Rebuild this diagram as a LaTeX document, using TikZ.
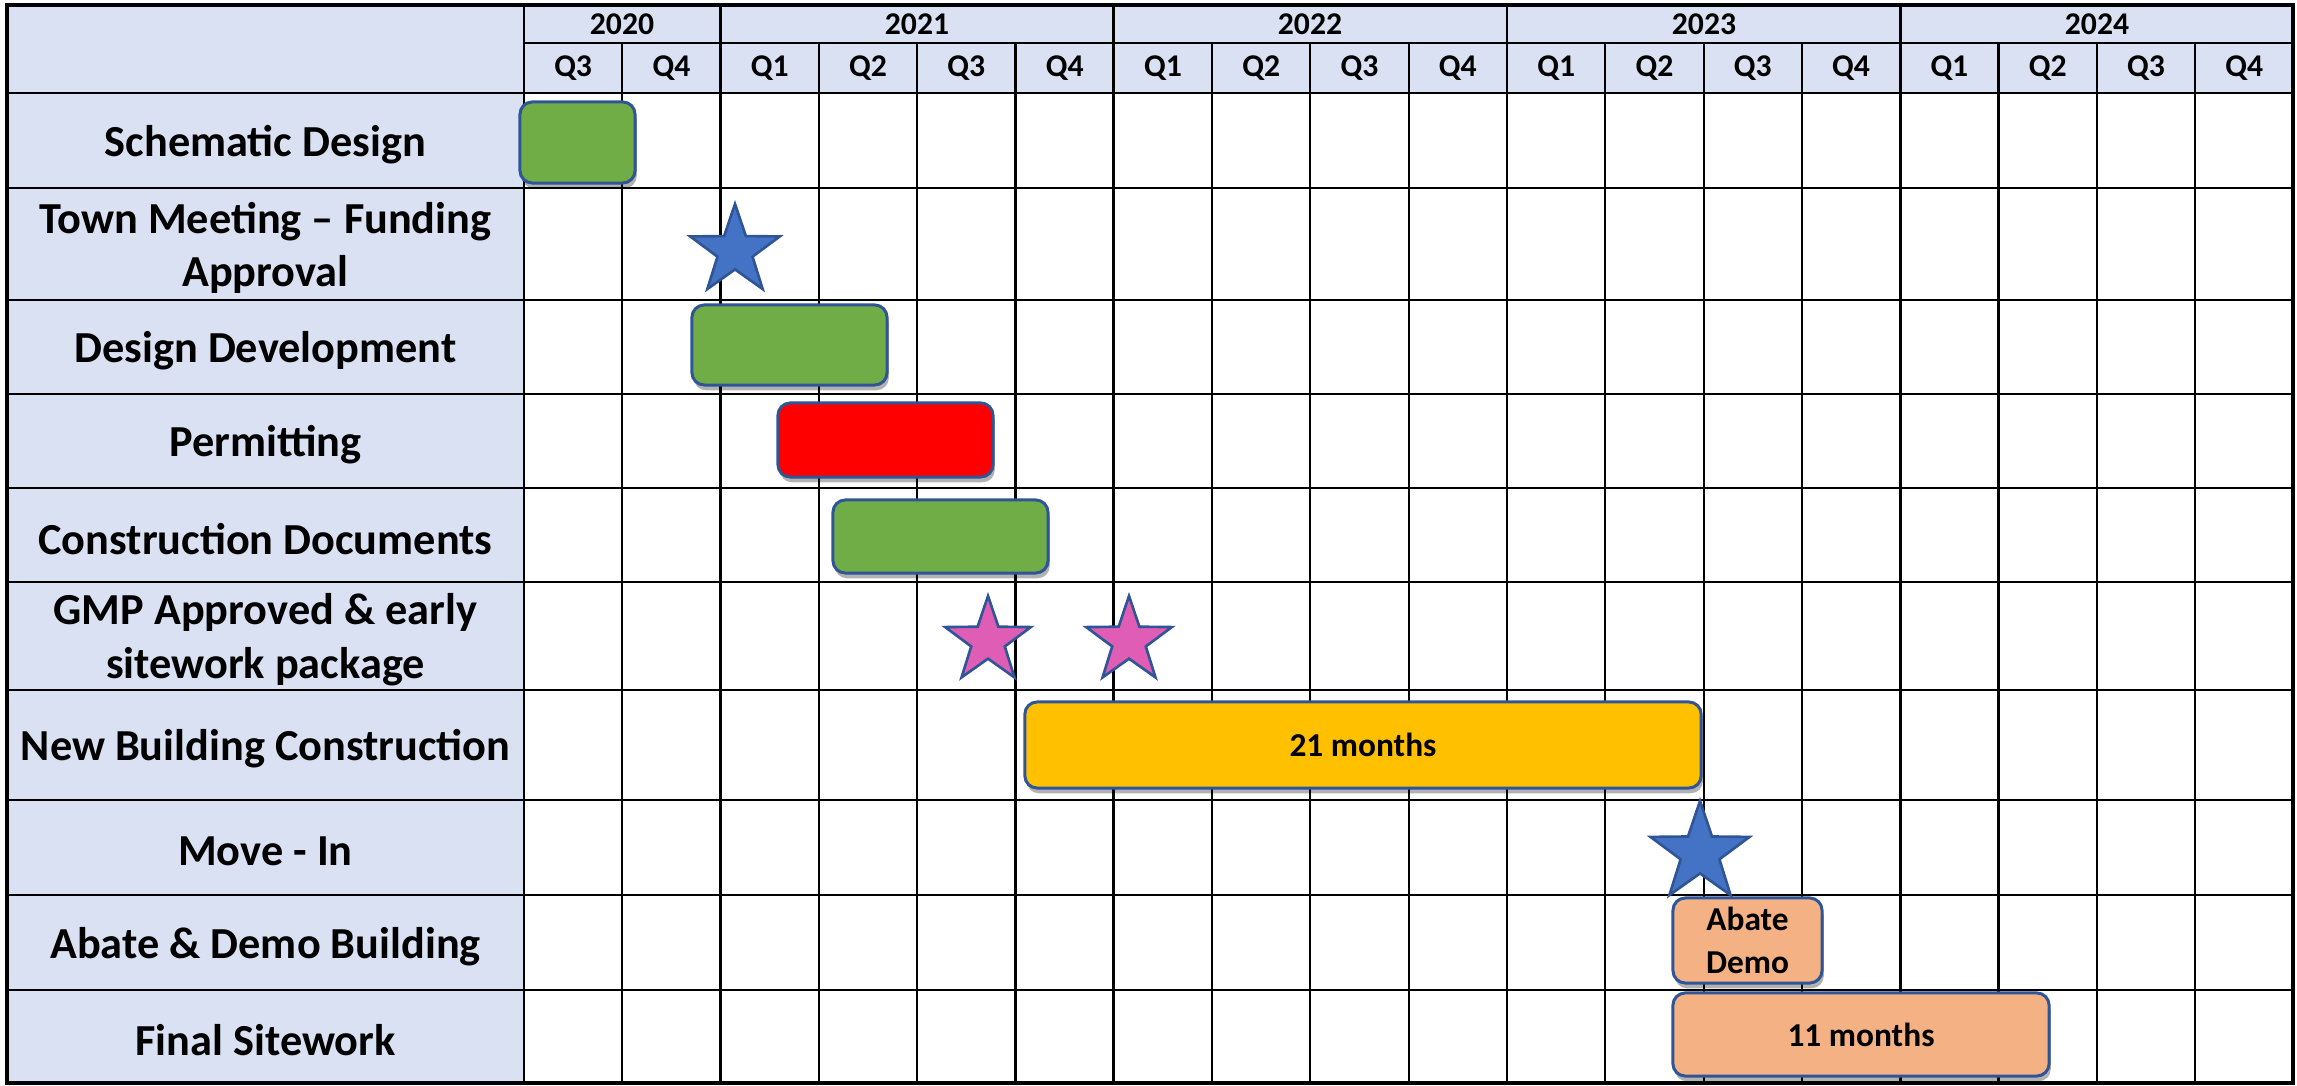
\documentclass[tikz,border=0pt]{standalone}
\usepackage{fontspec}
\setmainfont{Carlito}
\usetikzlibrary{shapes.geometric,shadows}
\definecolor{gridink}{HTML}{000000}
\definecolor{headfill}{HTML}{D9E1F2}
\definecolor{barline}{HTML}{2F5597}
\definecolor{bargreen}{HTML}{70AD47}
\definecolor{barred}{HTML}{FF0000}
\definecolor{bargold}{HTML}{FFC000}
\definecolor{barpeach}{HTML}{F4B183}
\definecolor{starblue}{HTML}{4472C4}
\definecolor{starpink}{HTML}{E05DB6}

\begin{document}
\begin{tikzpicture}[
  x=0.01cm,
  y=-0.01cm,
  every node/.style={text=black},
  rule/.style={gridink, line width=0.6pt},
  thickrule/.style={gridink, line width=0.8pt},
  frame/.style={gridink, line width=0.9pt},
  rowlabel/.style={align=center, yshift=-1.1pt, font=\fontsize{12.6}{15.2}\selectfont\bfseries},
  headtext/.style={font=\fontsize{9}{11}\selectfont\bfseries},
  bartext/.style={align=center, font=\fontsize{9.5}{12}\selectfont\bfseries},
  bar/.style={draw=barline, line width=0.85pt, rounded corners=3.5pt, inner sep=0pt,
    drop shadow={shadow xshift=0.5pt, shadow yshift=-1.5pt, opacity=0.3, fill=black}},
  milestone/.style={star, star points=5, star point ratio=2.55, inner sep=0pt,
    draw=barline, line width=0.75pt}
]
  % ---- page size ----------------------------------------------------------
  \useasboundingbox (0,0) rectangle (2297,1086);

  % ---- shaded label column and header rows ------------------------------
  \fill[headfill] (7,5) rectangle (524,1083);
  \fill[headfill] (524,5) rectangle (2293,93);

  % ---- grid ---------------------------------------------------------------
  \foreach \y in {188,300,394,488,582,690,800,895,990}
    \draw[rule] (7,\y) -- (2293,\y);
  \draw[thickrule] (7,93) -- (2293,93);
  \draw[thickrule] (524,43) -- (2293,43);
  \foreach \i in {1,3,4,5,7,8,9,11,12,13,15,16,17}
    \draw[rule] (524+98.3*\i,43) -- (524+98.3*\i,1083);
  \foreach \i in {0,2,6,10,14}
    \draw[thickrule] (524+98.3*\i,5) -- (524+98.3*\i,1083);
  \draw[frame] (7,5) rectangle (2293,1083);

  % ---- years and quarters ------------------------------------------------
  \foreach \x/\yr in {622/2020,917/2021,1310/2022,1704/2023,2097/2024}
    \node[headtext] (yr\yr) at (\x,24) {\yr};
  \foreach \q [count=\k from 0] in {3,4,1,2,3,4,1,2,3,4,1,2,3,4,1,2,3,4}
    \node[headtext] (q\k) at (524+98.3*\k+49.15,68) {Q\q};

  % ---- task names ---------------------------------------------------------
  \foreach \y/\t [count=\k] in {
      140.5/{Schematic Design},
      244/{Town Meeting -- Funding\\Approval},
      347/{Design Development},
      441/{Permitting},
      535/{Construction Documents},
      636/{GMP Approved \& early\\sitework package},
      745/{New Building Construction},
      847.5/{Move - In},
      942.5/{Abate \& Demo Building},
      1036.5/{Final Sitework}}
    \node[rowlabel] (task\k) at (265.5,\y) {\t};

  % ---- bars ---------------------------------------------------------------
  \node[bar, fill=bargreen, minimum width=1.15cm, minimum height=0.81cm]
    (schem) at (577.5,142.5) {};
  \node[bar, fill=bargreen, minimum width=1.95cm, minimum height=0.80cm]
    (devel) at (789.5,345) {};
  \node[bar, fill=barred, minimum width=2.15cm, minimum height=0.74cm]
    (permit) at (885.5,440) {};
  \node[bar, fill=bargreen, minimum width=2.15cm, minimum height=0.73cm]
    (condocs) at (940.5,536.5) {};
  \node[bar, bartext, fill=bargold, minimum width=6.76cm, minimum height=0.86cm]
    (newbldg) at (1363,745) {21 months};
  \node[bar, bartext, fill=barpeach, minimum width=1.49cm, minimum height=0.85cm]
    (abate) at (1747.5,940.5) {Abate\\Demo};
  \node[bar, bartext, fill=barpeach, minimum width=3.76cm, minimum height=0.83cm]
    (sitework) at (1861,1034.5) {11 months};

  % ---- milestones ---------------------------------------------------------
  \node[milestone, fill=starblue, minimum size=0.94cm] (townmtg) at (735,251) {};
  \node[milestone, fill=starpink, minimum size=0.9cm] (gmpA) at (988,641) {};
  \node[milestone, fill=starpink, minimum size=0.9cm] (gmpB) at (1129,641) {};
  \node[milestone, fill=starblue, minimum size=1.04cm] (movein) at (1700,853) {};
\end{tikzpicture}
\end{document}
